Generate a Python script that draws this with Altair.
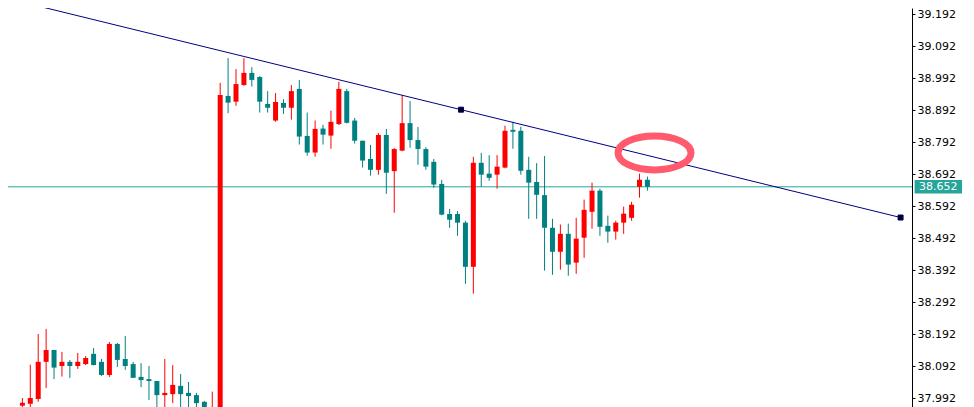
import altair as alt
import pandas as pd

# ---- candle data (index, open, high, low, close) ----
opens = [37.968, 37.974, 37.989, 38.105, 38.142, 38.092, 38.105, 38.092, 38.098, 38.130,
         38.105, 38.064, 38.161, 38.114, 38.098, 38.058, 38.051, 38.045, 38.001, 38.004,
         38.030, 38.008, 38.001, 37.980, 37.930, 37.950, 38.936, 38.918, 38.970, 39.008,
         38.995, 38.911, 38.859, 38.914, 38.899, 38.958, 38.811, 38.759, 38.834, 38.812,
         38.848, 38.951, 38.859, 38.796, 38.739, 38.705, 38.814, 38.701, 38.765, 38.851,
         38.798, 38.770, 38.730, 38.661, 38.567, 38.567, 38.540, 38.402, 38.727, 38.693,
         38.690, 38.712, 38.830, 38.827, 38.705, 38.667, 38.626, 38.524, 38.449, 38.505,
         38.415, 38.493, 38.574, 38.640, 38.530, 38.512, 38.540, 38.555, 38.652, 38.674]
highs = [37.992, 38.096, 38.192, 38.208, 38.142, 38.136, 38.111, 38.133, 38.123, 38.148,
         38.114, 38.167, 38.164, 38.186, 38.105, 38.101, 38.092, 38.045, 38.114, 38.095,
         38.067, 38.042, 38.008, 37.983, 38.012, 38.977, 39.054, 39.020, 39.054, 39.026,
         38.998, 38.951, 38.945, 38.926, 38.970, 38.986, 38.884, 38.859, 38.846, 38.890,
         38.980, 38.958, 38.867, 38.796, 38.783, 38.820, 38.833, 38.773, 38.939, 38.920,
         38.839, 38.776, 38.739, 38.674, 38.583, 38.576, 38.546, 38.746, 38.758, 38.751,
         38.751, 38.843, 38.855, 38.840, 38.746, 38.726, 38.748, 38.552, 38.534, 38.537,
         38.555, 38.612, 38.665, 38.646, 38.562, 38.546, 38.590, 38.605, 38.693, 38.684]
lows = [37.950, 37.955, 37.980, 38.023, 38.051, 38.059, 38.055, 38.083, 38.095, 38.094,
        38.061, 38.058, 38.089, 38.080, 38.055, 38.026, 37.986, 37.950, 37.950, 37.976,
        37.950, 37.950, 37.950, 37.940, 37.920, 37.930, 38.882, 38.905, 38.968, 38.965,
        38.884, 38.884, 38.855, 38.880, 38.862, 38.784, 38.749, 38.746, 38.784, 38.771,
        38.845, 38.850, 38.787, 38.712, 38.687, 38.690, 38.630, 38.571, 38.763, 38.774,
        38.721, 38.705, 38.649, 38.563, 38.524, 38.499, 38.349, 38.318, 38.652, 38.671,
        38.646, 38.710, 38.771, 38.690, 38.552, 38.552, 38.390, 38.377, 38.393, 38.374,
        38.380, 38.430, 38.521, 38.499, 38.477, 38.487, 38.505, 38.546, 38.618, 38.640]
closes = [37.977, 37.992, 38.105, 38.142, 38.087, 38.105, 38.092, 38.105, 38.117, 38.095,
          38.064, 38.161, 38.111, 38.092, 38.055, 38.048, 38.045, 38.001, 38.008, 38.033,
          38.004, 37.998, 37.976, 37.955, 37.950, 38.939, 38.915, 38.973, 39.008, 38.986,
          38.918, 38.899, 38.917, 38.899, 38.951, 38.809, 38.759, 38.833, 38.815, 38.855,
          38.958, 38.852, 38.796, 38.734, 38.705, 38.814, 38.696, 38.770, 38.851, 38.798,
          38.770, 38.715, 38.659, 38.565, 38.549, 38.540, 38.402, 38.727, 38.690, 38.680,
          38.715, 38.827, 38.824, 38.702, 38.665, 38.627, 38.524, 38.449, 38.505, 38.409,
          38.490, 38.580, 38.640, 38.527, 38.512, 38.540, 38.568, 38.596, 38.674, 38.652]

# trend line anchors (bar index, price)
trend_idx = [0.0, 55.44, 111.0]
trend_price = [39.229, 38.893, 38.556]

current_price = 38.652
tick_values = [37.992, 38.092, 38.192, 38.292, 38.392, 38.492, 38.592,
               38.692, 38.792, 38.892, 38.992, 39.092, 39.192]
ellipse_idx = [79.9]
ellipse_price = [38.758]

X_DOMAIN = [-1.1875, 111.8125]
Y_DOMAIN = [37.96388, 39.21075]

UP = "#FF0000"
DOWN = "#008080"

df = pd.DataFrame({
    "i": list(range(len(opens))),
    "open": opens, "high": highs, "low": lows, "close": closes,
})
df["dir"] = ["up" if c >= o else "down" for o, c in zip(opens, closes)]

xs = alt.Scale(domain=X_DOMAIN, nice=False, zero=False)
ys = alt.Scale(domain=Y_DOMAIN, nice=False, zero=False)
col = alt.Color("dir:N", scale=alt.Scale(domain=["up", "down"], range=[UP, DOWN]), legend=None)

yaxis = alt.Axis(
    orient="right", values=tick_values, format=".3f", title=None, grid=False,
    domainColor="#000000", tickColor="#000000", tickSize=3, labelPadding=2,
    labelFont="DejaVu Sans", labelFontSize=11, labelColor="#000000",
    labelOverlap=False, labelBound=False, labelFlush=False)

base = alt.Chart(df)

wicks = base.mark_rule(strokeWidth=1, clip=True).encode(
    x=alt.X("i:Q", scale=xs, axis=None),
    y=alt.Y("low:Q", scale=ys, axis=yaxis),
    y2="high:Q",
    color=col,
)

bodies = base.mark_bar(size=5, clip=True).encode(
    x=alt.X("i:Q", scale=xs, axis=None),
    y=alt.Y("open:Q", scale=ys, axis=yaxis),
    y2="close:Q",
    color=col,
)

price_df = pd.DataFrame({"p": [current_price], "label": [f"{current_price:.3f}"]})
price_line = alt.Chart(price_df).mark_rule(color="#26A69A", strokeWidth=1, clip=True).encode(
    y=alt.Y("p:Q", scale=ys, axis=yaxis)
)

trend_df = pd.DataFrame({"i": trend_idx, "p": trend_price})
trend_line = alt.Chart(trend_df).mark_line(color="#000080", strokeWidth=1, clip=True).encode(
    x=alt.X("i:Q", scale=xs, axis=None), y=alt.Y("p:Q", scale=ys, axis=yaxis)
)
trend_pts = alt.Chart(trend_df).mark_square(
    size=25, filled=True, color="#000000", stroke="#000080", strokeWidth=1, opacity=1, clip=True
).encode(x=alt.X("i:Q", scale=xs, axis=None), y=alt.Y("p:Q", scale=ys, axis=yaxis))

ell_path = ("M -1 0 C -1 -0.2573 -0.5523 -0.4658 0 -0.4658 "
            "C 0.5523 -0.4658 1 -0.2573 1 0 "
            "C 1 0.2573 0.5523 0.4658 0 0.4658 "
            "C -0.5523 0.4658 -1 0.2573 -1 0 Z")
ell_df = pd.DataFrame({"i": ellipse_idx, "p": ellipse_price})
ellipse = alt.Chart(ell_df).mark_point(
    shape=ell_path, size=5329, filled=False, stroke="#FF5A6E", strokeWidth=7, opacity=1
).encode(x=alt.X("i:Q", scale=xs, axis=None), y=alt.Y("p:Q", scale=ys, axis=yaxis))

box_path = "M -1 -0.283 L 1 -0.283 L 1 0.283 L -1 0.283 Z"
price_box = alt.Chart(price_df).mark_point(
    shape=box_path, size=2247, filled=True, color="#26A69A", opacity=1, clip=False
).encode(x=alt.value(930.3), y=alt.Y("p:Q", scale=ys, axis=yaxis))
price_text = alt.Chart(price_df).mark_text(
    font="DejaVu Sans", fontSize=11, color="#FFFFFF", align="center", baseline="middle", dy=0.5, clip=False
).encode(x=alt.value(930.3), y=alt.Y("p:Q", scale=ys, axis=yaxis), text="label:N")

chart = alt.layer(
    price_line, wicks, bodies, trend_line, trend_pts, ellipse, price_box, price_text
).properties(
    width=904, height=399, padding=0, background="#FFFFFF"
).configure_view(strokeWidth=0).configure_axis(labelOverlap=False)

chart.save("out.html", embed_options={"renderer": "svg", "actions": False})
